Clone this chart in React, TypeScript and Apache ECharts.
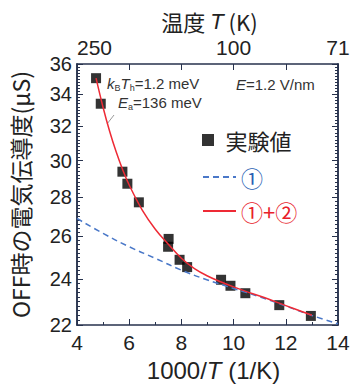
import React, { useEffect, useRef } from 'react';
import * as echarts from 'echarts';

// Experimental points: x = 1000/T (1/K), y = conductance (μS)
const expX = [4.73, 4.91, 5.74, 5.93, 6.37, 7.51, 7.49, 7.93, 8.22, 9.52, 9.88, 10.45, 11.75, 12.96];
const expY = [35.05, 33.4, 29.38, 28.72, 27.73, 25.88, 25.5, 24.88, 24.54, 23.96, 23.69, 23.36, 22.84, 22.38];

// Model ① (dashed blue)
const model1X = [4, 5, 6, 7, 8, 9, 10, 11, 12, 13, 14];
const model1Y = [26.9, 26.15, 25.5, 24.95, 24.4, 23.95, 23.57, 23.2, 22.8, 22.4, 22.05];

// Model ①+② (red)
const model12X = [4.73, 5.0, 5.25, 5.5, 5.75, 6.0, 6.5, 7.0, 7.5, 8.0, 8.5, 9.0, 9.5, 10.0, 10.5, 11.0, 12.0, 13.0];
const model12Y = [35.05, 33.16, 31.71, 30.5, 29.49, 28.65, 27.33, 26.36, 25.62, 24.95, 24.47, 24.13, 23.87, 23.64, 23.43, 23.235, 22.82, 22.41];

// Axis ticks
const yTicks = [22, 24, 26, 28, 30, 32, 34, 36];
const xTicks = [4, 6, 8, 10, 12, 14];
const topTickPos = [4, 10, 14];
const topTickLabels = ['250', '100', '71'];

const FONT = "'Liberation Sans', Arial, 'Noto Sans CJK JP', sans-serif";
const CJK = "'Noto Sans CJK JP', 'Liberation Sans', sans-serif";
const FRAME = '#27324d';
const TXT = '#222';

export default function App() {
  const ref = useRef<HTMLDivElement>(null);
  useEffect(() => {
    if (!ref.current) return;
    const chart = echarts.init(ref.current, undefined, { renderer: 'svg' });
    const ln = (v: number) => Math.log(v);
    const yMin = ln(yTicks[0]);
    const yMax = ln(yTicks[yTicks.length - 1]);
    const majorY = yTicks.map(ln);
    const minorY: number[] = [];
    for (let i = 0; i <= 70; i++) minorY.push(ln(22 + i * 0.2));

    const yBase = (pos: string) => ({
      type: 'value',
      position: pos,
      min: yMin,
      max: yMax,
      splitLine: { show: false },
      axisLine: { show: true, onZero: false, lineStyle: { color: FRAME, width: 1.5 } },
      axisLabel: { show: false },
      axisTick: { show: false },
    });

    const option: any = {
      animation: false,
      backgroundColor: '#fff',
      grid: { left: 77, right: 16, top: 64, bottom: 62 },
      xAxis: [
        {
          type: 'value',
          position: 'bottom',
          min: 4,
          max: 14,
          interval: 2,
          splitLine: { show: false },
          axisLine: { onZero: false, lineStyle: { color: FRAME, width: 1.5 } },
          axisTick: { inside: true, length: 6, lineStyle: { color: FRAME } },
          minorTick: { show: true, splitNumber: 2, length: 3, lineStyle: { color: FRAME } },
          axisLabel: { fontSize: 21, margin: 7, color: TXT, fontFamily: FONT },
          name: '1000/{i|T} (1/K)',
          nameLocation: 'middle',
          nameGap: 33,
          nameTextStyle: {
            fontSize: 24,
            color: TXT,
            fontFamily: FONT,
            padding: [0, 0, 0, 12],
            rich: { i: { fontStyle: 'italic', fontSize: 24, color: TXT, fontFamily: FONT } },
          },
        },
        {
          type: 'value',
          position: 'top',
          min: 4,
          max: 14,
          splitLine: { show: false },
          axisLine: { onZero: false, lineStyle: { color: FRAME, width: 1.5 } },
          axisTick: { inside: true, length: 6, lineStyle: { color: FRAME }, customValues: xTicks },
          axisLabel: {
            fontSize: 21,
            margin: 6,
            color: TXT,
            fontFamily: FONT,
            customValues: topTickPos,
            alignMinLabel: 'left',
            formatter: (v: number) => {
              const i = topTickPos.findIndex((p) => Math.abs(p - v) < 1e-6);
              return i >= 0 ? topTickLabels[i] : '';
            },
          },
          name: '温度 {i|T} (K)',
          nameLocation: 'middle',
          nameGap: 30,
          nameTextStyle: {
            fontSize: 22,
            color: TXT,
            fontFamily: CJK,
            padding: [0, 0, 0, 4],
            rich: { i: { fontStyle: 'italic', fontSize: 22, color: TXT, fontFamily: FONT } },
          },
        },
      ],
      yAxis: [
        {
          ...yBase('left'),
          axisLabel: {
            show: true,
            customValues: majorY,
            fontSize: 20,
            margin: 5,
            color: TXT,
            fontFamily: FONT,
            formatter: (v: number) => String(Math.round(Math.exp(v))),
          },
          axisTick: { show: true, inside: true, length: 6, customValues: majorY, lineStyle: { color: FRAME } },
          name: 'OFF時の電気伝導度(μS)',
          nameLocation: 'middle',
          nameRotate: 90,
          nameGap: 46,
          nameTextStyle: { fontSize: 23, color: TXT, fontFamily: CJK },
        },
        {
          ...yBase('left'),
          axisTick: { show: true, inside: true, length: 3, customValues: minorY, lineStyle: { color: FRAME } },
        },
        {
          ...yBase('right'),
          axisTick: { show: true, inside: true, length: 6, customValues: majorY, lineStyle: { color: FRAME } },
        },
        {
          ...yBase('right'),
          axisTick: { show: true, inside: true, length: 3, customValues: minorY, lineStyle: { color: FRAME } },
        },
      ],
      legend: [
        {
          data: [{ name: '実験値', icon: 'path://M0,0h10v10h-10z' }],
          left: 202,
          top: 128,
          padding: 0,
          orient: 'vertical',
          itemWidth: 25,
          itemHeight: 12,
          symbolKeepAspect: true,
          selectedMode: false,
          textStyle: { fontSize: 22, lineHeight: 24, color: TXT, fontFamily: CJK },
        },
        {
          data: [
            { name: '①', textStyle: { color: '#2b5fb4' } },
            { name: '①+②', textStyle: { color: '#e8202a' } },
          ],
          left: 202,
          top: 165,
          padding: 0,
          orient: 'vertical',
          itemWidth: 33,
          itemHeight: 14,
          itemGap: 10,
          selectedMode: false,
          itemStyle: { opacity: 0, borderWidth: 0 },
          textStyle: { fontSize: 22, lineHeight: 24, fontFamily: CJK },
        },
      ],
      graphic: [
        {
          type: 'text',
          x: 107,
          y: 83,
          style: {
            text: '{i|k}{s|B}{i|T}{s|h}{n|=1.2 meV}',
            verticalAlign: 'middle',
            fill: '#333',
            rich: {
              i: { fontStyle: 'italic', fontSize: 15, lineHeight: 18, fontFamily: FONT, fill: '#333' },
              n: { fontSize: 15, lineHeight: 18, fontFamily: FONT, fill: '#333' },
              s: { fontSize: 9, lineHeight: 9, verticalAlign: 'bottom', fontFamily: FONT, fill: '#333' },
            },
          },
        },
        {
          type: 'text',
          x: 118,
          y: 102,
          style: {
            text: '{i|E}{s|a}{n|=136 meV}',
            verticalAlign: 'middle',
            fill: '#333',
            rich: {
              i: { fontStyle: 'italic', fontSize: 15, lineHeight: 18, fontFamily: FONT, fill: '#333' },
              n: { fontSize: 15, lineHeight: 18, fontFamily: FONT, fill: '#333' },
              s: { fontSize: 9, lineHeight: 9, verticalAlign: 'bottom', fontFamily: FONT, fill: '#333' },
            },
          },
        },
        {
          type: 'text',
          x: 236,
          y: 84,
          style: {
            text: '{i|E}{n|=1.2 V/nm}',
            verticalAlign: 'middle',
            fill: '#333',
            rich: {
              i: { fontStyle: 'italic', fontSize: 15, lineHeight: 18, fontFamily: FONT, fill: '#333' },
              n: { fontSize: 15, lineHeight: 18, fontFamily: FONT, fill: '#333' },
            },
          },
        },
        {
          type: 'line',
          shape: { x1: 107, y1: 124, x2: 114, y2: 115 },
          style: { stroke: '#999', lineWidth: 1 },
        },
      ],
      series: [
        {
          name: '実験値',
          type: 'scatter',
          xAxisIndex: 0,
          yAxisIndex: 0,
          symbol: 'rect',
          symbolSize: 10,
          itemStyle: { color: '#000' },
          z: 2,
          data: expX.map((x, i) => [x, ln(expY[i])]),
        },
        {
          name: '①',
          type: 'line',
          xAxisIndex: 0,
          yAxisIndex: 0,
          symbol: 'none',
          smooth: true,
          itemStyle: { color: '#4a78c8' },
          lineStyle: { color: '#4a78c8', width: 1.5, type: [6, 4] },
          z: 3,
          data: model1X.map((x, i) => [x, ln(model1Y[i])]),
        },
        {
          name: '①+②',
          type: 'line',
          xAxisIndex: 0,
          yAxisIndex: 0,
          symbol: 'none',
          smooth: 0.4,
          itemStyle: { color: '#ee2a35' },
          lineStyle: { color: '#ee2a35', width: 1.5 },
          z: 4,
          data: model12X.map((x, i) => [x, ln(model12Y[i])]),
        },
      ],
    };
    chart.setOption(option);
    return () => chart.dispose();
  }, []);
  return (
    <div
      ref={ref}
      style={{ position: 'fixed', left: 0, top: 0, width: 354, height: 387, background: '#fff' }}
    />
  );
}
